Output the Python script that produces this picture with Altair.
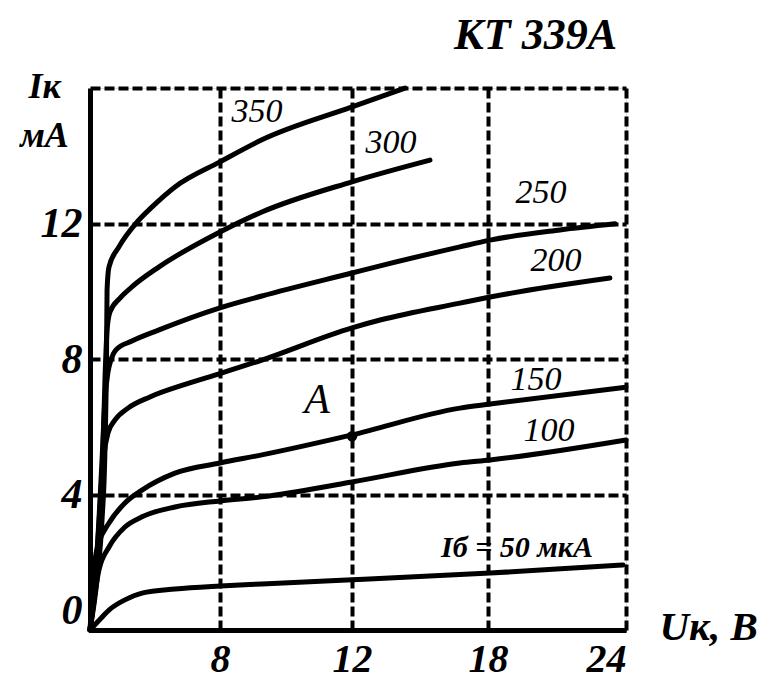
import altair as alt
import pandas as pd

# Output characteristics of transistor KT 339A: Ik (mA) vs Uk (V), curves for base current Ib (uA)
ib_levels = [50, 100, 150, 200, 250, 300, 350]

uk_50 = [0, 0.62, 1.17, 2.15, 3.20, 5.23, 8.0, 9.27, 12.0, 18.09, 23.87]
ik_50 = [0, 0.32, 0.59, 0.89, 1.09, 1.21, 1.30, 1.36, 1.48, 1.68, 1.92]

uk_100 = [0, 0.25, 0.55, 1.17, 2.15, 3.20, 5.23, 8.0, 9.27, 12.0, 16.76, 18.09, 24.0]
ik_100 = [0, 0.89, 1.77, 2.45, 3.04, 3.34, 3.63, 3.81, 3.93, 4.37, 4.93, 5.02, 5.61]

uk_150 = [0, 0.12, 0.31, 0.55, 1.17, 2.15, 3.20, 5.23, 8.0, 9.27, 12.0, 16.76, 18.09, 24.0]
ik_150 = [0, 0.89, 2.07, 2.57, 3.16, 3.75, 4.13, 4.63, 4.93, 5.17, 5.76, 6.55, 6.67, 7.17]

uk_200 = [0, 0.25, 0.49, 0.68, 0.86, 1.11, 1.54, 2.34, 3.69, 5.85, 8.0, 9.27, 12.0, 13.24, 16.76, 18.09, 23.30]
ik_200 = [0, 1.18, 2.66, 4.13, 5.17, 5.82, 6.20, 6.55, 6.88, 7.25, 7.57, 7.97, 8.92, 9.15, 9.65, 9.83, 10.39]

uk_250 = [0, 0.31, 0.55, 0.74, 0.92, 1.11, 1.29, 1.60, 2.58, 4.25, 8.0, 9.27, 12.0, 13.24, 16.76, 18.09, 21.13, 23.52]
ik_250 = [0, 1.48, 3.25, 5.02, 6.79, 7.62, 7.97, 8.27, 8.53, 8.86, 9.51, 9.86, 10.54, 10.75, 11.31, 11.51, 11.81, 11.99]

uk_300 = [0, 0.37, 0.62, 0.80, 0.92, 1.05, 1.23, 1.85, 2.58, 4.25, 8.0, 9.27, 12.0, 15.44]
ik_300 = [0, 1.48, 3.25, 5.31, 7.38, 8.86, 9.39, 9.80, 10.13, 10.72, 11.75, 12.34, 13.23, 13.87]

uk_350 = [0, 0.43, 0.74, 0.92, 1.02, 1.05, 1.17, 1.78, 2.89, 3.82, 5.23, 8.0, 9.27, 12.0, 14.34]
ik_350 = [0, 1.48, 3.25, 5.31, 8.27, 10.04, 10.72, 11.31, 12.04, 12.49, 13.08, 13.82, 14.47, 15.44, 16.0]

curve_uk = [uk_50, uk_100, uk_150, uk_200, uk_250, uk_300, uk_350]
curve_ik = [ik_50, ik_100, ik_150, ik_200, ik_250, ik_300, ik_350]

# curve labels (Ib values)
label_text = ["100", "150", "200", "250", "300", "350"]
label_uk = [20.65, 20.09, 20.96, 20.3, 13.72, 9.12]
label_ik = [5.87, 7.38, 10.89, 12.9, 14.38, 15.29]

ib50_text = ["Iб = 50 мкА"]
ib50_uk = [19.26]
ib50_ik = [2.42]

point_a_uk = [12.0]
point_a_ik = [5.72]
point_a_label_uk = [10.94]
point_a_label_ik = [6.79]

x_ticks = [8, 12, 18, 24]
y_ticks = [0, 4, 8, 12, 16]

W, H = 536, 542
FONT = "Liberation Serif"

rows = []
for ib, us, iks in zip(ib_levels, curve_uk, curve_ik):
    for i, (u, k) in enumerate(zip(us, iks)):
        rows.append({"ib": ib, "uk": u, "ik": k, "order": i})
curves_df = pd.DataFrame(rows)

labels_df = pd.DataFrame({"text": label_text, "uk": label_uk, "ik": label_ik})
ib50_df = pd.DataFrame({"text": ib50_text, "uk": ib50_uk, "ik": ib50_ik})
pa_df = pd.DataFrame({"uk": point_a_uk, "ik": point_a_ik})
pa_lab_df = pd.DataFrame({"uk": point_a_label_uk, "ik": point_a_label_ik, "text": ["A"]})

xscale = alt.Scale(domain=[0, 8, 12, 18, 24], range=[0, 130, 262, 398, W], nice=False, zero=False)
yscale = alt.Scale(domain=[0, 16], nice=False)

xaxis = alt.Axis(
    values=x_ticks, grid=True, gridDash=[10, 4], gridWidth=4, gridColor="black", gridOpacity=1,
    domain=True, domainWidth=5, domainColor="black", ticks=False,
    labelFont=FONT, labelFontSize=40, labelFontStyle="italic", labelFontWeight="bold",
    labelColor="black", labelPadding=9, labelBaseline="top",
    title="Uк, В", titleFont=FONT, titleFontSize=41, titleFontStyle="italic", titleFontWeight="bold",
    titleColor="black", titleX=W + 33, titleY=-3, titleAlign="left", titleBaseline="middle",
    titleAngle=0,
)
yaxis = alt.Axis(
    values=y_ticks, grid=True, gridDash=[10, 4], gridWidth=4, gridColor="black", gridOpacity=1,
    domain=True, domainWidth=5, domainColor="black", ticks=False,
    labelFont=FONT, labelFontSize=42, labelFontStyle="italic", labelFontWeight="bold",
    labelColor="black", labelPadding=8,
    labelExpr="datum.value == 16 ? '' : datum.label",
    labelOffset={"condition": {"test": "datum.value == 0", "value": -20}, "value": 0},
    title=["Iк", "мА"], titleFont=FONT, titleFontSize=36, titleFontStyle="italic", titleFontWeight="bold",
    titleColor="black", titleX=-46, titleY=-19, titleAlign="center", titleBaseline="top",
    titleAngle=0, titleLineHeight=49,
)

base_x = alt.X("uk:Q", scale=xscale, axis=xaxis)
base_y = alt.Y("ik:Q", scale=yscale, axis=yaxis)

lines = alt.Chart(curves_df).mark_line(
    color="black", strokeWidth=5, interpolate="monotone", strokeCap="round", strokeJoin="round"
).encode(
    x=base_x, y=base_y, detail="ib:N", order="order:Q"
)

labels = alt.Chart(labels_df).mark_text(
    font=FONT, fontStyle="italic", fontSize=34, color="black", align="center", baseline="middle"
).encode(
    x=alt.X("uk:Q", scale=xscale),
    y=alt.Y("ik:Q", scale=yscale),
    text="text:N",
)

ib50 = alt.Chart(ib50_df).mark_text(
    font=FONT, fontStyle="italic", fontWeight="bold", fontSize=30, color="black",
    align="center", baseline="middle"
).encode(
    x=alt.X("uk:Q", scale=xscale),
    y=alt.Y("ik:Q", scale=yscale),
    text="text:N",
)

pa = alt.Chart(pa_df).mark_point(filled=True, color="black", size=110, opacity=1).encode(
    x=alt.X("uk:Q", scale=xscale), y=alt.Y("ik:Q", scale=yscale)
)
pa_lab = alt.Chart(pa_lab_df).mark_text(
    font=FONT, fontStyle="italic", fontSize=42, color="black", align="center", baseline="middle"
).encode(
    x=alt.X("uk:Q", scale=xscale), y=alt.Y("ik:Q", scale=yscale), text="text:N"
)

chart = alt.layer(lines, labels, ib50, pa, pa_lab).properties(
    width=W, height=H,
    title=alt.TitleParams(
        "КТ 339А", anchor="end", dx=-9, offset=10, frame="group",
        font=FONT, fontSize=44, fontStyle="italic", fontWeight="bold", color="black",
    ),
    autosize=alt.AutoSizeParams(type="none"),
    padding={"left": 82, "top": 80, "right": 135, "bottom": 49},
).configure_view(stroke=None).configure(background="white")

chart.save("out.html", embed_options={"renderer": "svg", "actions": False})
